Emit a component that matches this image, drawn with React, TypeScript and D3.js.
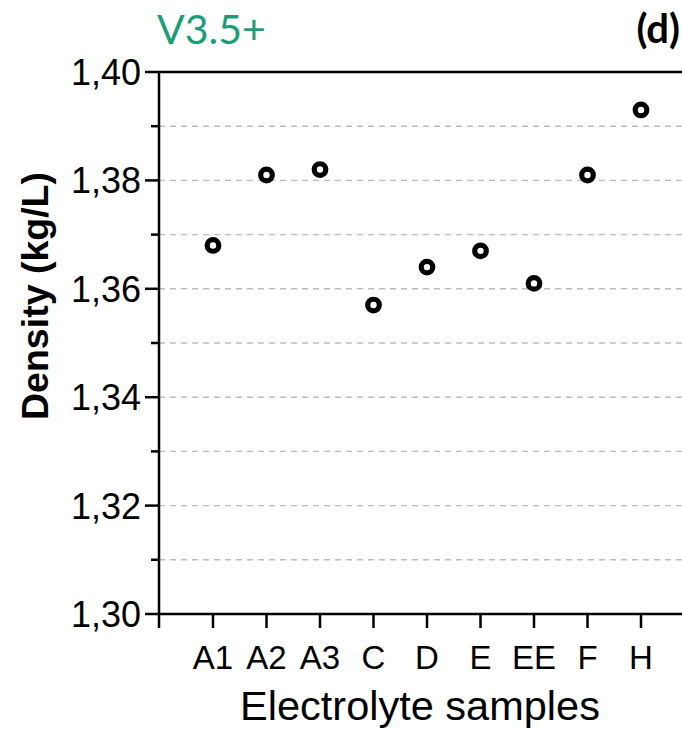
import { useEffect, useRef } from "react";
import * as d3 from "d3";

// chart data
const categories = ["A1", "A2", "A3", "C", "D", "E", "EE", "F", "H"];
const density = [1.368, 1.381, 1.382, 1.357, 1.364, 1.367, 1.361, 1.381, 1.393];
const majorTicks = [1.3, 1.32, 1.34, 1.36, 1.38, 1.4];
const minorTicks = [1.31, 1.33, 1.35, 1.37, 1.39];
const gridTicks = [1.31, 1.32, 1.33, 1.34, 1.35, 1.36, 1.37, 1.38, 1.39];

const width = 682;
const height = 732;
const margin = { top: 72, right: 0, bottom: 118, left: 159 };

const font = "'Liberation Sans', Arial, sans-serif";

const drawChart = (el: SVGSVGElement) => {
    const svg = d3.select(el);
    svg.selectAll("*").remove();

    const y = d3.scaleLinear()
        .domain([1.3, 1.4])
        .range([height - margin.bottom, margin.top]);

    const x = d3.scalePoint<string>()
        .domain(categories)
        .range([213, 641]);

    const fmt = (v: number) => d3.format(".2f")(v).replace(".", ",");
    const bottom = height - margin.bottom;

    // dashed grid lines
    svg.append("g")
        .selectAll("line")
        .data(gridTicks)
        .join("line")
        .attr("x1", margin.left)
        .attr("x2", width)
        .attr("y1", d => y(d))
        .attr("y2", d => y(d))
        .attr("stroke", "#bdbdbd")
        .attr("stroke-width", 1.4)
        .attr("stroke-dasharray", "6,5");

    // top frame line
    svg.append("line")
        .attr("x1", margin.left).attr("x2", width)
        .attr("y1", y(1.4)).attr("y2", y(1.4))
        .attr("stroke", "#000").attr("stroke-width", 2.5);

    // y axis
    const yAxis = svg.append("g");
    yAxis.append("line")
        .attr("x1", margin.left).attr("x2", margin.left)
        .attr("y1", y(1.4)).attr("y2", bottom + 14)
        .attr("stroke", "#000").attr("stroke-width", 2.5);
    yAxis.selectAll(".major")
        .data(majorTicks)
        .join("line")
        .attr("x1", margin.left - 14).attr("x2", margin.left)
        .attr("y1", d => y(d)).attr("y2", d => y(d))
        .attr("stroke", "#000").attr("stroke-width", 2.5);
    yAxis.selectAll(".minor")
        .data(minorTicks)
        .join("line")
        .attr("x1", margin.left - 8).attr("x2", margin.left)
        .attr("y1", d => y(d)).attr("y2", d => y(d))
        .attr("stroke", "#000").attr("stroke-width", 2.5);
    yAxis.selectAll("text")
        .data(majorTicks)
        .join("text")
        .attr("x", margin.left - 18)
        .attr("y", d => y(d))
        .attr("dy", "0.36em")
        .attr("text-anchor", "end")
        .attr("font-family", font)
        .attr("font-size", 36)
        .text(d => fmt(d));

    // x axis
    const xAxis = svg.append("g");
    xAxis.append("line")
        .attr("x1", margin.left).attr("x2", width)
        .attr("y1", bottom).attr("y2", bottom)
        .attr("stroke", "#000").attr("stroke-width", 2.5);
    xAxis.selectAll("line.tick")
        .data(categories)
        .join("line")
        .attr("class", "tick")
        .attr("x1", d => x(d)!).attr("x2", d => x(d)!)
        .attr("y1", bottom).attr("y2", bottom + 14)
        .attr("stroke", "#000").attr("stroke-width", 2.5);
    xAxis.selectAll("text")
        .data(categories)
        .join("text")
        .attr("x", d => x(d)!)
        .attr("y", bottom + 55)
        .attr("text-anchor", "middle")
        .attr("font-family", font)
        .attr("font-size", 33)
        .text(d => d);

    // axis titles
    svg.append("text")
        .attr("x", 420)
        .attr("y", 720)
        .attr("text-anchor", "middle")
        .attr("font-family", font)
        .attr("font-size", 41.5)
        .text("Electrolyte samples");

    svg.append("text")
        .attr("transform", `translate(48,${(172 + 420) / 2}) rotate(-90)`)
        .attr("text-anchor", "middle")
        .attr("font-family", font)
        .attr("font-weight", "bold")
        .attr("font-size", 37.5)
        .text("Density (kg/L)");

    // header labels
    svg.append("text")
        .attr("x", 157)
        .attr("y", 44)
        .attr("font-family", "Lato, 'Open Sans', sans-serif")
        .attr("font-size", 41)
        .attr("fill", "#1b9e77")
        .text("V3.5+");

    svg.append("text")
        .attr("x", 680)
        .attr("y", 43)
        .attr("text-anchor", "end")
        .attr("font-family", "Lato, 'Open Sans', sans-serif")
        .attr("font-weight", "bold")
        .attr("font-size", 40)
        .text("(d)");

    // points
    svg.append("g")
        .selectAll("circle")
        .data(density)
        .join("circle")
        .attr("cx", (_, i) => x(categories[i])!)
        .attr("cy", d => y(d))
        .attr("r", 5.8)
        .attr("fill", "#fff")
        .attr("stroke", "#000")
        .attr("stroke-width", 5.2);
};

export default function App() {
    const ref = useRef<SVGSVGElement>(null);

    useEffect(() => {
        if (ref.current) drawChart(ref.current);
    }, []);

    return (
        <svg
            ref={ref}
            width={width}
            height={height}
            style={{ position: "absolute", left: 0, top: 0, background: "#fff" }}
        />
    );
}
